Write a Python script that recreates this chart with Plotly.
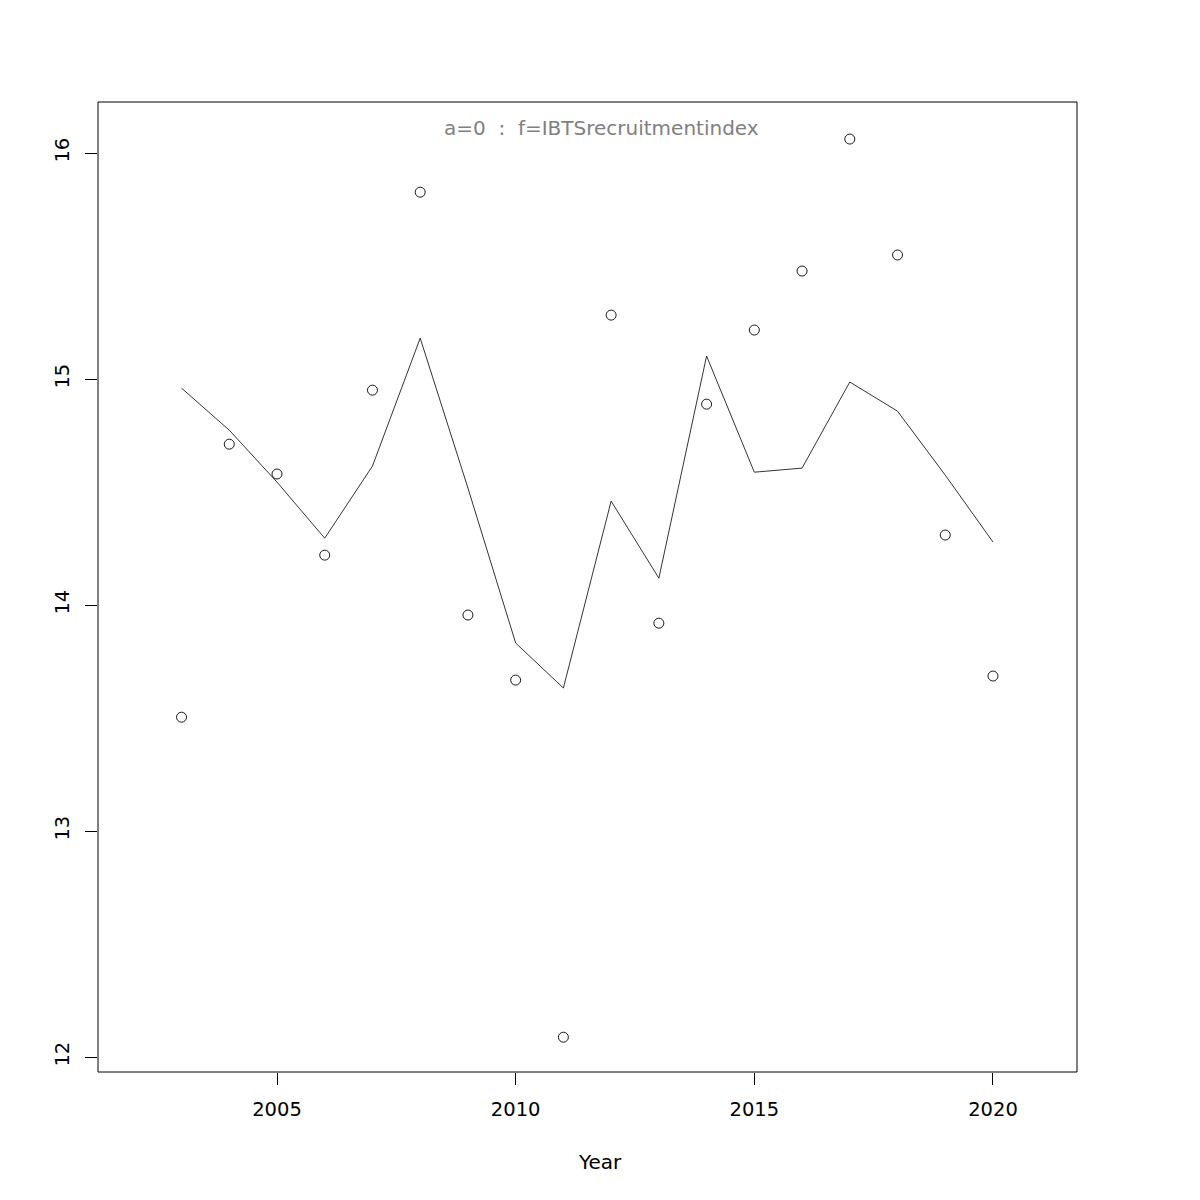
import plotly.graph_objects as go

years = list(range(2003, 2021))
observed = [13.504, 14.712, 14.580, 14.221, 14.951, 15.827, 13.956, 13.668, 12.088,
            15.283, 13.920, 14.889, 15.217, 15.478, 16.062, 15.549, 14.310, 13.686]
fitted = [14.960, 14.774, 14.544, 14.296, 14.615, 15.181, 14.518, 13.832, 13.633,
          14.460, 14.119, 15.102, 14.588, 14.606, 14.987, 14.858, 14.575, 14.279]
x_ticks = [2005, 2010, 2015, 2020]
y_ticks = [12, 13, 14, 15, 16]
title_text = "a=0  :  f=IBTSrecruitmentindex"
x_title = "Year"

font = "DejaVu Sans"

fig = go.Figure()
fig.add_trace(go.Scatter(x=years, y=fitted, mode="lines",
                         line=dict(color="black", width=0.8), showlegend=False))
fig.add_trace(go.Scatter(x=years, y=observed, mode="markers",
                         marker=dict(symbol="circle-open", size=10, color="black",
                                     line=dict(width=0.9, color="black")),
                         showlegend=False))

fig.update_layout(
    width=1200, height=1200, autosize=False,
    margin=dict(l=90, r=131, t=94, b=136),
    paper_bgcolor="white", plot_bgcolor="white",
    font=dict(family=font, size=19.5, color="black"),
    xaxis=dict(range=[2001.25, 2021.76], tickvals=x_ticks, ticks="outside", ticklen=12,
               tickcolor="black", tickwidth=1, showgrid=False, zeroline=False, showline=False,
               ticklabelstandoff=8),
    yaxis=dict(range=[11.934, 16.226], tickvals=y_ticks, ticks="outside", ticklen=12,
               tickcolor="black", tickwidth=1, showgrid=False, zeroline=False, showline=False,
               tickangle=-90, ticklabelstandoff=8),
    shapes=[dict(type="rect", xref="paper", yref="paper", x0=0, x1=1, y0=0, y1=1,
                 line=dict(color="black", width=1), fillcolor="rgba(0,0,0,0)", layer="above")],
    annotations=[
        dict(text=title_text, xref="paper", yref="paper", x=0.5148, y=1, yanchor="top",
             yshift=-12, showarrow=False, font=dict(family=font, size=20, color="#808080")),
        dict(text=x_title, xref="paper", yref="paper", x=0.5128, y=0, yanchor="middle",
             yshift=-90, showarrow=False, font=dict(family=font, size=20, color="black")),
    ],
)

fig.write_html("out.html")
